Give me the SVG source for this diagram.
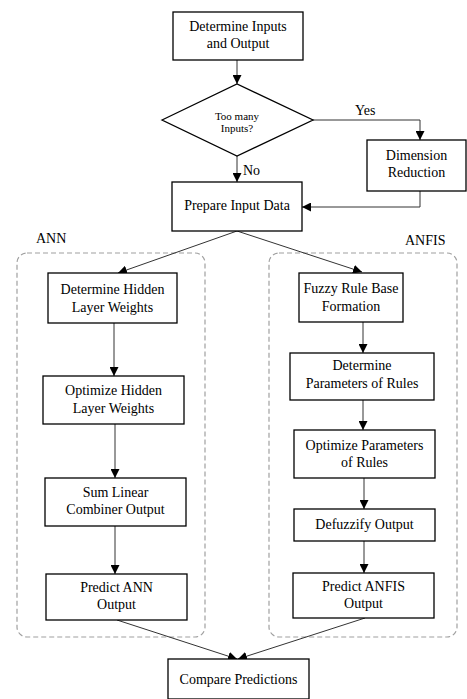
<svg xmlns="http://www.w3.org/2000/svg" width="467" height="699" viewBox="0 0 467 699">
<defs>
<marker id="arr" viewBox="0 0 10 10" refX="10" refY="5" markerWidth="9" markerHeight="9" markerUnits="userSpaceOnUse" orient="auto"><path d="M0,0 L10,5 L0,10 z" fill="#000"/></marker>
<style>
.box{fill:#fff;stroke:#000;stroke-width:1.3}
.grp{fill:none;stroke:#a0a0a0;stroke-width:1.2;stroke-dasharray:5,3}
.t{font-size:14px;fill:#000;text-anchor:middle}
.s{font-size:11px}
.l{text-anchor:start}
.c{fill:none;stroke:#333;stroke-width:1}
</style>
</defs>
<rect width="467" height="699" fill="#fff"/>
<g font-family="'Liberation Serif', 'Times New Roman', 'DejaVu Serif', serif">
<g id="groups">
<rect class="grp" x="17" y="253" width="188" height="384" rx="10"/>
<rect class="grp" x="269" y="253" width="188" height="384" rx="10"/>
<text class="t l" x="36" y="243">ANN</text>
<text class="t l" x="405" y="245">ANFIS</text>
</g>
<g id="connectors">
<line class="c" x1="237" y1="60" x2="237" y2="84" marker-end="url(#arr)"/>
<polyline class="c" points="313,120 420,120 420,140" marker-end="url(#arr)"/>
<line class="c" x1="237" y1="156" x2="237" y2="182" marker-end="url(#arr)"/>
<polyline class="c" points="420,191 420,207 302,207" marker-end="url(#arr)"/>
<line class="c" x1="237" y1="231" x2="118" y2="273" marker-end="url(#arr)"/>
<line class="c" x1="237" y1="231" x2="362" y2="272" marker-end="url(#arr)"/>
<line class="c" x1="114" y1="323" x2="114" y2="376" marker-end="url(#arr)"/>
<line class="c" x1="115" y1="424" x2="115" y2="478" marker-end="url(#arr)"/>
<line class="c" x1="115" y1="526" x2="115" y2="574" marker-end="url(#arr)"/>
<line class="c" x1="363" y1="322" x2="363" y2="353" marker-end="url(#arr)"/>
<line class="c" x1="363" y1="400" x2="363" y2="430" marker-end="url(#arr)"/>
<line class="c" x1="364" y1="478" x2="364" y2="509" marker-end="url(#arr)"/>
<line class="c" x1="364" y1="541" x2="364" y2="573" marker-end="url(#arr)"/>
<line class="c" x1="117" y1="620" x2="237" y2="659" marker-end="url(#arr)"/>
<line class="c" x1="365" y1="618" x2="238" y2="659" marker-end="url(#arr)"/>
<text class="t l" x="355" y="115">Yes</text>
<text class="t l" x="243" y="175">No</text>
</g>
<g id="n-inputs">
<rect class="box" x="173" y="12" width="130" height="48"/>
<text class="t" x="238" y="31">Determine Inputs</text>
<text class="t" x="238" y="48">and Output</text>
</g>
<g id="n-decision">
<polygon class="box" points="162,120 237,84 313,120 237,156"/>
<text class="t s" x="237" y="120">Too many</text>
<text class="t s" x="237" y="132">Inputs?</text>
</g>
<g id="n-dimred">
<rect class="box" x="367" y="140" width="99" height="51"/>
<text class="t" x="416.5" y="160">Dimension</text>
<text class="t" x="416.5" y="177">Reduction</text>
</g>
<g id="n-prepare">
<rect class="box" x="172" y="182" width="130" height="49"/>
<text class="t" x="237" y="210">Prepare Input Data</text>
</g>
<g id="n-dhlw">
<rect class="box" x="48" y="273" width="129" height="50"/>
<text class="t" x="112.5" y="294">Determine Hidden</text>
<text class="t" x="112.5" y="312">Layer Weights</text>
</g>
<g id="n-ohlw">
<rect class="box" x="43" y="376" width="141" height="48"/>
<text class="t" x="113.5" y="395">Optimize Hidden</text>
<text class="t" x="113.5" y="413">Layer Weights</text>
</g>
<g id="n-sum">
<rect class="box" x="45" y="478" width="141" height="48"/>
<text class="t" x="115.5" y="497">Sum Linear</text>
<text class="t" x="115.5" y="514">Combiner Output</text>
</g>
<g id="n-pann">
<rect class="box" x="46" y="574" width="141" height="46"/>
<text class="t" x="116.5" y="592">Predict ANN</text>
<text class="t" x="116.5" y="609">Output</text>
</g>
<g id="n-fuzzy">
<rect class="box" x="299" y="273" width="104" height="49"/>
<text class="t" x="351" y="293">Fuzzy Rule Base</text>
<text class="t" x="351" y="311">Formation</text>
</g>
<g id="n-dpr">
<rect class="box" x="290" y="353" width="144" height="47"/>
<text class="t" x="362" y="370">Determine</text>
<text class="t" x="362" y="388">Parameters of Rules</text>
</g>
<g id="n-opr">
<rect class="box" x="294" y="430" width="141" height="48"/>
<text class="t" x="364.5" y="450">Optimize Parameters</text>
<text class="t" x="364.5" y="467">of Rules</text>
</g>
<g id="n-defuzz">
<rect class="box" x="294" y="509" width="141" height="32"/>
<text class="t" x="364.5" y="529">Defuzzify Output</text>
</g>
<g id="n-panfis">
<rect class="box" x="293" y="573" width="141" height="45"/>
<text class="t" x="363.5" y="591">Predict ANFIS</text>
<text class="t" x="363.5" y="608">Output</text>
</g>
<g id="n-compare">
<rect class="box" x="168" y="659" width="141" height="40"/>
<text class="t" x="238.5" y="684">Compare Predictions</text>
</g>
</g>
</svg>
